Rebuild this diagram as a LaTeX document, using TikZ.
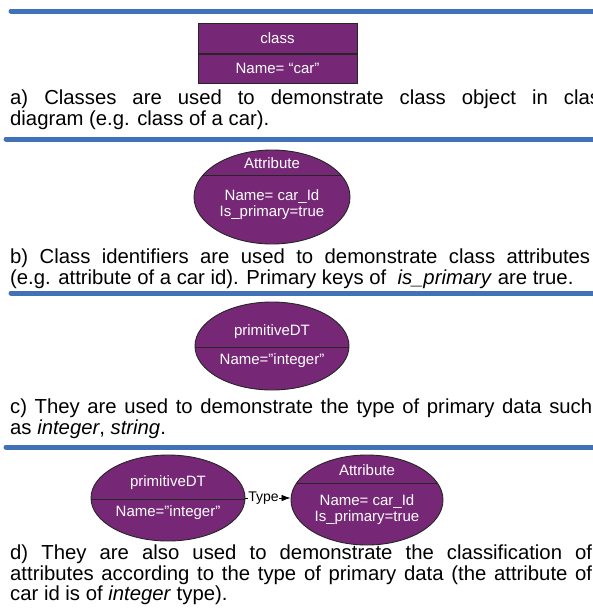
\documentclass[tikz,border=0pt]{standalone}
\usepackage{fontspec}
\setmainfont{Liberation Sans}
\usetikzlibrary{positioning, arrows.meta, shapes.geometric}
\definecolor{barblue}{RGB}{65, 113, 182}
\definecolor{umlpurple}{RGB}{118, 40, 118}

\begin{document}
\begin{tikzpicture}[x=1pt, y=-1pt,
      bar/.style={line width=5pt, color=barblue, line cap=round},
      cls/.style={draw=black!85, line width=0.9pt, fill=umlpurple,
                  minimum width=159pt, minimum height=29.5pt, inner sep=0pt,
                  text=white, font=\fontsize{15}{17}\selectfont},
      oval/.style={ellipse, draw=black!85, line width=0.9pt, fill=umlpurple, inner sep=0pt},
      cut/.style={path picture={\draw[black!85, line width=0.9pt]
                  ([yshift=#1]path picture bounding box.west) --
                  ([yshift=#1]path picture bounding box.east);}},
      lbl/.style={text=white, inner sep=0pt, font=\fontsize{15}{17}\selectfont},
      para/.style={anchor=north west, text width=#1, align=justify, inner sep=0pt,
                   font=\fontsize{20.3}{20.5}\selectfont},
      arr/.style={-{Latex[length=9pt, width=6.5pt]}, line width=0.8pt}]
    \useasboundingbox (0,0) rectangle (593,608);

    % separators
    \draw[bar] (11,11) -- (600,11);
    \draw[bar] (6,139) -- (600,139);
    \draw[bar] (11,293) -- (600,293);
    \draw[bar] (6,447) -- (600,447);

    % a) class
    \node[cls] (clshead) at (277.5,38.5) {class};
    \node[cls, below=0pt of clshead] (clsname) {Name= “car”};
    \node[para=600pt] (txta) at (10,90) {a) Classes are used to demonstrate class object in class\linebreak diagram (e.g. class of a car).};

    % b) attribute
    \node[oval, cut=22pt, minimum width=156pt, minimum height=94pt] (attr) at (272,197) {};
    \node[lbl] (attrhead) at (272,163) {Attribute};
    \node[lbl] (attrname) at (272,197) {Name= car\_Id};
    \node[lbl] (attrkey) at (272,213) {Is\_primary=true};
    \node[para=580pt] (txtb) at (10,249) {b) Class identifiers are used to demonstrate class attributes\linebreak (e.g. attribute of a car id). Primary keys of \ \textit{is\_primary} are true.};

    % c) primitive data type
    \node[oval, cut=-1pt, minimum width=154pt, minimum height=88pt] (prim) at (272,346) {};
    \node[lbl] (primhead) at (272,332) {primitiveDT};
    \node[lbl] (primname) at (272,361) {Name=”integer”};
    \node[para=582pt] (txtc) at (10,399) {c) They are used to demonstrate the type of primary data such\linebreak as \textit{integer}, \textit{string}.};

    % d) type relation
    \node[oval, cut=-1pt, minimum width=154pt, minimum height=86pt] (dprim) at (168,498) {};
    \node[lbl] (dprimhead) at (168,483) {primitiveDT};
    \node[lbl] (dprimname) at (168,513) {Name=”integer”};
    \node[oval, cut=17pt, minimum width=152pt, minimum height=90pt] (dattr) at (367,500) {};
    \node[lbl] (dattrhead) at (367,470) {Attribute};
    \node[lbl] (dattrname) at (367,502) {Name= car\_Id};
    \node[lbl] (dattrkey) at (367,518) {Is\_primary=true};
    \draw[arr] (dprim.east |- 0,498) -- node[pos=0.4, fill=white, inner sep=0.3pt, font=\fontsize{14}{16}\selectfont] (typelbl) {Type} (dattr.west |- 0,498);
    \node[para=582pt] (txtd) at (10,545) {d) They are also used to demonstrate the classification of\linebreak attributes according to the type of primary data (the attribute of\linebreak car id is of \textit{integer} type).};
  \end{tikzpicture}
\end{document}
